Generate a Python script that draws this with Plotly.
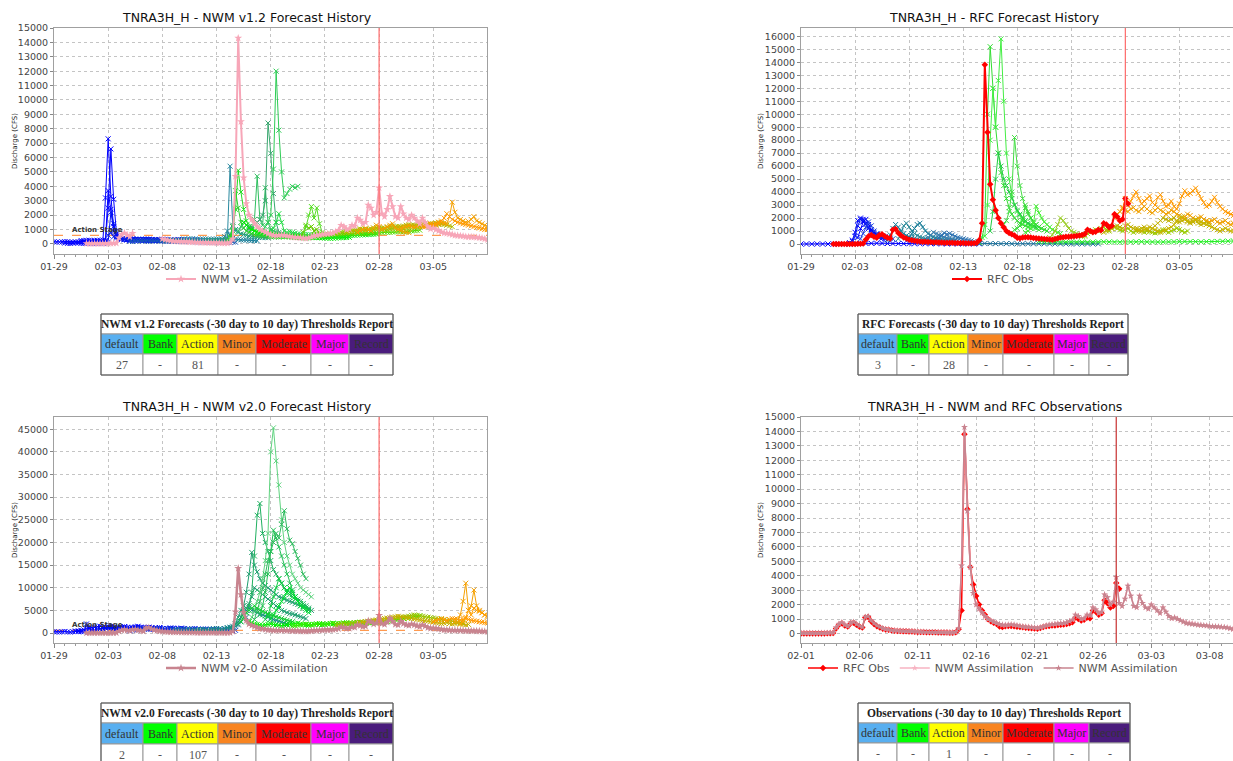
import plotly.graph_objects as go
import pandas as pd

W, H = 1233, 761

# ---------------- observations (6-hourly from 2019-02-01 00:00) ----------------
OBS_START = "2019-02-01 00:00"
OBS_STEP_H = 6

ASSIM_V20 = [30, 20, 20, 30, 20, 20, 30, 30, 30, 40, 50, 60,
             400, 650, 760, 600, 500, 750, 800, 650, 520, 430, 1150, 1200,
             900, 700, 550, 450, 350, 300, 260, 230, 200, 190, 180, 170,
             160, 150, 140, 130, 120, 110, 100, 100, 90, 90, 80, 80,
             70, 70, 60, 60, 60, 100, 350, 4700, 14300, 8500, 4600, 2800,
             2000, 1700, 1450, 1200, 1000, 900, 800, 720, 650, 600, 580, 600,
             620, 600, 560, 520, 480, 460, 450, 430, 400, 380, 420, 480,
             550, 600, 620, 650, 680, 700, 720, 750, 850, 950, 1300, 1200,
             1000, 1050, 1300, 1250, 1800, 1650, 1400, 1500, 2700, 2500, 2000, 2200,
             3900, 2100, 1900, 2400, 3300, 2600, 1900, 1800, 2600, 2100, 1800, 1700,
             2000, 1800, 1600, 1400, 1800, 1500, 1200, 1050, 1100, 1000, 900, 800,
             700, 680, 650, 620, 600, 580, 560, 540, 500, 490, 480, 470,
             450, 440, 400, 350, 300]

# v1.2 assimilation has a data gap between 02-05 and 02-08
ASSIM_V12 = [30, 20, 20, 30, 20, 20, 30, 30, 30, 40, 50, 60,
             420, 660, 760, 610, 500, 740, None, None, None, None, None, None,
             None, None, None, None, 350, 300, 260, 230, 200, 190, 180, 170,
             160, 150, 140, 130, 120, 110, 100, 100, 90, 90, 80, 80,
             70, 70, 60, 60, 60, 100, 350, 4700, 14300, 8500, 4600, 2800,
             2000, 1700, 1450, 1200, 1000, 900, 800, 720, 650, 600, 580, 600,
             620, 600, 560, 520, 480, 460, 450, 430, 400, 380, 420, 480,
             550, 600, 620, 650, 680, 700, 720, 750, 850, 950, 1300, 1200,
             1000, 1050, 1300, 1250, 1800, 1650, 1400, 1500, 2700, 2500, 2000, 2200,
             3900, 2100, 1900, 2400, 3300, 2600, 1900, 1800, 2600, 2100, 1800, 1700,
             2000, 1800, 1600, 1400, 1800, 1500, 1200, 1050, 1100, 1000, 900, 820,
             760, 740, 700, 650, 600, 580, 560, 540, 500, 490, 480, 470,
             450, 440, 400, 350, 300]

RFC_OBS = [0, 0, 0, 0, 0, 0, 0, 0, 0, 10, 20, 40,
           350, 600, 700, 550, 480, 700, 750, 600, 480, 420, 1100, 1150,
           850, 650, 500, 420, 330, 280, 250, 220, 190, 180, 170, 160,
           150, 140, 130, 120, 110, 100, 100, 90, 90, 80, 80, 70,
           70, 60, 60, 50, 50, 90, 300, 1600, 13800, 8600, 4600, 3400,
           2600, 2000, 1600, 1300, 1000, 850, 750, 650, 480, 450, 500, 520,
           520, 500, 470, 450, 430, 400, 380, 360, 350, 330, 380, 450,
           500, 520, 550, 560, 580, 600, 620, 650, 700, 780, 1100, 1000,
           900, 950, 1100, 1050, 1600, 1500, 1300, 1400, 2300, 2100, 1800, 1900,
           3500, 3100]

# ---------------- NWM v1.2 forecasts ----------------
V12_FC_START = ["2019-01-29 00:00", "2019-01-30 00:00", "2019-01-31 12:00", "2019-02-01 18:00",
                "2019-02-03 00:00", "2019-02-05 00:00", "2019-02-08 00:00", "2019-02-10 00:00",
                "2019-02-12 00:00", "2019-02-14 00:00", "2019-02-14 06:00", "2019-02-15 00:00",
                "2019-02-16 00:00", "2019-02-17 00:00", "2019-02-17 12:00", "2019-02-15 12:00",
                "2019-02-18 00:00", "2019-02-20 18:00", "2019-02-21 00:00", "2019-02-22 00:00",
                "2019-02-24 00:00", "2019-02-25 00:00", "2019-02-26 00:00", "2019-03-02 00:00",
                "2019-03-04 00:00"]
V12_FC_VALUES = [
    [150, 130, 120, 140, 160, 150, 130, 120, 140, 150, 160, 140, 130, 120, 150, 160, 170, 150, 140, 160,
     2500, 6600, 3100, 900, 450, 350, 300, 280, 260, 250, 270, 290, 260, 240, 250, 230, 220, 240, 230, 220],
    [60, 40, 30, 50, 70, 60, 40, 30, 50, 60, 40, 30, 50, 70, 60, 3200, 7300, 3300, 1200, 500,
     380, 320, 300, 290, 280, 300, 310, 290, 270, 260, 250, 270, 260, 250, 240, 230, 250, 240, 230, 220],
    [240, 230, 250, 260, 240, 230, 250, 260, 270, 250, 3700, 2400, 900, 600, 400, 350, 320, 300, 310, 330,
     300, 280, 270, 290, 300, 280, 260, 250, 270, 260, 240, 230, 250, 240, 230, 220],
    [100, 110, 90, 80, 100, 120, 2200, 1400, 700, 450, 380, 340, 320, 330, 350, 320, 300, 310, 330, 320,
     300, 290, 280, 300, 290, 270, 260, 280, 270, 260, 250, 240, 260, 250, 240, 230],
    [600, 800, 500, 400, 350, 320, 300, 320, 340, 360, 330, 310, 300, 320, 340, 330, 310, 300, 290, 310,
     330, 320, 300, 290, 280, 300, 310, 290, 280, 270, 260, 280, 270, 260, 250, 240],
    [180, 170, 190, 200, 220, 210, 190, 180, 200, 220, 210, 200, 190, 180, 170, 190, 200, 180, 170, 160,
     150, 170, 180, 160, 150, 140, 160, 150, 140, 130, 150, 140, 130, 120, 140, 130, 120, 110, 130, 120],
    [250, 240, 260, 270, 260, 250, 240, 260, 250, 240, 230, 250, 240, 230, 220, 240, 230, 220, 210, 230,
     220, 250, 300, 500, 900, 600, 400, 350, 300, 280, 270, 260, 250, 240, 230, 220],
    [340, 330, 350, 360, 340, 330, 320, 340, 350, 330, 320, 340, 350, 330, 340, 360, 400, 5400, 1200, 900],
    [230, 220, 240, 250, 230, 220, 240, 260, 300, 500, 1300, 1000, 800, 700, 650, 600, 550, 520, 500, 480,
     460, 450, 440, 430],
    [300, 500, 1200, 3700, 2500, 1500, 1100, 900, 800, 700, 650, 600, 580, 560, 540, 520, 500, 490, 480, 470],
    [400, 900, 2400, 5100, 3600, 2400, 1600, 1200, 1000, 900, 800, 750, 700, 680, 650, 620, 600, 580, 560, 550,
     540, 530, 520, 510, 500, 490, 480, 470],
    [900, 1200, 1500, 1300, 1200, 1100, 1700, 4700, 1700, 1300, 3900, 1500, 1000, 900, 800, 700, 650, 600, 580,
     560, 550, 540, 530],
    [1000, 1200, 1400, 1500, 1700, 2000, 3000, 8400, 6300, 3500, 1500, 800, 700, 650, 600, 580, 560, 550, 540, 530],
    [800, 900, 1200, 1500, 2000, 5200, 12000, 7900, 5000, 3200, 3500, 3800, 4000, 3900, 4000],
    [700, 800, 900, 1100, 1500, 2100, 1500, 900, 800, 850, 800, 750, 700, 680, 660, 650, 640, 630, 620, 610],
    [1500, 1300, 1100, 1000, 900, 850, 800, 750, 700, 680, 660, 640, 620, 600, 580, 560, 550, 540, 530, 520,
     510, 500, 490, 480, 470, 460, 450, 440, 430, 420, 410, 400, 390, 400, 410, 420, 430, 440, 450, 460],
    [600, 580, 560, 540, 520, 500, 490, 480, 470, 460, 450, 440, 430, 420, 430, 440, 450, 460, 470, 480,
     490, 500, 510, 520, 530, 540, 550, 560, 570, 580, 590, 600, 610, 620, 630, 640, 650, 660, 670, 680],
    [500, 800, 1300, 1100, 1200, 900, 1000, 700, 600],
    [500, 1200, 2000, 2600, 1800, 2500, 1400, 800],
    [600, 620, 640, 650, 670, 680, 700, 690, 680, 700, 720, 710, 700, 690, 700, 720, 740, 730, 720, 740,
     760, 780, 770, 760, 780, 800, 820, 810, 800, 820, 840, 860, 850, 840, 860, 880, 900, 920, 940, 960],
    [700, 750, 800, 820, 850, 900, 880, 860, 900, 950, 980, 1000, 970, 950, 1000, 1050, 1080, 1100, 1050, 1000,
     1050, 1100, 1150, 1200, 1150, 1100, 1150, 1200, 1250, 1300, 1250, 1200, 1250, 1300, 1350, 1400, 1350, 1300,
     1350, 1400],
    [800, 850, 900, 950, 1000, 1050, 1000, 950, 1000, 1050, 1100, 1150, 1100, 1050, 1100, 1150, 1200, 1250, 1200,
     1150, 1200, 1250, 1300, 1350, 1300, 1250, 1300, 1350, 1400, 1450, 1400, 1350, 1400, 1450, 1500, 1400, 1350,
     1300, 1250, 1200],
    [800, 900, 1000, 1100, 1000, 900, 1100, 1300, 1200, 1000, 1100, 1200, 1300, 1400, 1100, 1000, 900, 850, 800, 780],
    [1100, 1150, 1200, 1250, 1200, 1150, 1200, 1300, 1250, 1200, 1300, 1400, 1350, 1300, 1400, 1500, 1450, 1400,
     1900, 2900, 2200, 1800, 1700, 1600, 1500, 1550, 1700, 1900, 1600, 1500, 1400, 1300, 1200, 1100],
    [1200, 1250, 1300, 1350, 1300, 1400, 1500, 1600, 1800, 2100, 1900, 1700, 1600, 1500, 1450, 1400, 1350, 1300,
     1250, 1200, 1150, 1100, 1050, 1000, 1000],
]
V12_FC_COLORS = ["#0000ff", "#0000ff", "#0000ff", "#0010f5", "#0a20e8", "#1a5ab8", "#1a7f9a", "#2a8aa0",
                 "#209a80", "#33cc33", "#22dd22", "#2fbf5f", "#3aa870", "#2ecc55", "#22dd44", "#00ee00",
                 "#11ee11", "#66cc00", "#55dd22", "#55dd00", "#99c400", "#b5bb00", "#f0a000", "#f5a000",
                 "#ff9a00"]

# ---------------- RFC forecasts ----------------
RFC_FC_START = ["2019-01-29 00:00", "2019-02-02 12:00", "2019-02-02 18:00", "2019-02-03 06:00",
                "2019-02-03 12:00", "2019-02-10 00:00", "2019-02-06 00:00", "2019-02-07 00:00",
                "2019-02-08 00:00", "2019-02-09 12:00", "2019-02-10 12:00", "2019-02-14 12:00",
                "2019-02-15 00:00", "2019-02-15 12:00", "2019-02-16 18:00", "2019-02-17 18:00",
                "2019-02-18 18:00", "2019-02-21 00:00", "2019-02-20 00:00", "2019-02-24 00:00",
                "2019-02-26 00:00", "2019-02-27 00:00", "2019-02-27 18:00", "2019-03-01 00:00"]
RFC_FC_STEP_H = [12, 6, 6, 6, 6, 12, 6, 6, 6, 6, 6, 6, 6, 6, 6, 6, 6, 6, 12, 6, 6, 6, 6, 6]
RFC_FC_VALUES = [
    [0, 0, 0, 0, 0, 0, 0, 0, 0, 0, 20, 30, 40, 50, 60, 50, 40, 40, 30, 30, 30, 20, 20, 20, 20, 20, 10, 10, 10,
     10, 10, 10, 10, 10],
    [100, 300, 900, 1800, 2000, 1900, 1500, 1200, 900, 700, 600, 500, 450, 400],
    [200, 600, 1400, 1900, 1800, 1600, 1300, 1000, 800, 650, 550, 480, 420],
    [500, 1200, 1700, 1900, 1500, 1100, 900, 750, 650, 600, 550],
    [400, 800, 1300, 1700, 1400, 1000, 800, 700, 600, 550, 500, 450, 400],
    [100, 90, 80, 70, 60, 60, 50, 50, 40, 40, 40, 30, 30, 30, 30, 20, 20, 20, 20, 20, 20, 20, 10, 10, 10, 10,
     10, 10, 10, 10, 10, 10],
    [300, 700, 1200, 1500, 1300, 1000, 800, 650, 550, 450, 400, 350, 300, 280, 250, 230, 220, 200],
    [400, 900, 1400, 1600, 1300, 1000, 800, 650, 550, 480, 420, 380, 350, 320, 300, 280],
    [500, 800, 1200, 1500, 1600, 1300, 1000, 800, 650, 550, 480, 420, 380, 350, 320, 300, 280, 260],
    [300, 500, 700, 900, 800, 700, 600, 500, 450, 400, 350, 300, 280],
    [300, 500, 700, 850, 750, 800, 700, 600, 500, 450, 400, 350, 300, 250, 200],
    [100, 500, 1500, 10000, 15200, 12000, 9000, 7000, 5500, 4500, 3500, 2800, 2300, 2000, 1800, 1600, 1500, 1400,
     1300, 1200],
    [600, 3000, 8000, 12000, 9000, 12600, 15800, 11000, 7000, 5000, 3800, 3000, 2500, 2200, 1900, 1700, 1500, 1400,
     1300, 1200, 1100],
    [1000, 2500, 5000, 7000, 6000, 5000, 4500, 4000, 3500, 3000, 2600, 2300, 2000, 1800, 1600, 1500, 1400, 1300],
    [1500, 1800, 2500, 4000, 8200, 6000, 4500, 3500, 2800, 2300, 2000, 1700, 1500, 1300, 1200],
    [1100, 1200, 1400, 1800, 3000, 2500, 2000, 1700, 1500, 1300, 1200, 1100, 1000],
    [900, 1000, 1200, 1600, 2900, 2400, 2000, 1700, 1500, 1300, 1100, 1000, 900, 800],
    [500, 700, 1000, 1500, 2000, 1800, 1500, 1200, 1000, 900, 800, 700, 650, 600],
    [200, 180, 160, 150, 140, 150, 160, 150, 140, 130, 150, 160, 170, 160, 150, 140, 150, 160, 170, 180, 170, 160,
     150, 160, 170, 180, 190, 200, 190, 180, 170, 180, 190, 200, 210, 220, 230],
    [600, 700, 800, 900, 1000, 1100, 1000, 1200, 1300, 1100, 1000, 1200, 1300, 1200, 1100, 1000, 1100, 1200, 1000,
     900, 1000, 1100, 1000, 900, 1000, 950, 900, 850, 900, 1000, 1100, 1000, 900, 1000, 1100, 1200, 1100, 1000,
     900, 1000],
    [900, 1000, 1100, 1200, 1300, 1400, 1300, 1200, 1400, 1500, 1300, 1200, 1100, 1000, 1200, 1300, 1100, 1000,
     1200, 1400, 1600, 1800, 2000, 1900, 1800, 1900, 2000, 1800, 1700, 1800, 1900, 1700, 1600, 1700, 1800, 1600,
     1500, 1600, 1700, 1600],
    [2000, 2300, 2500, 2700, 2600, 2500, 2700, 2800, 2600, 2500, 2700, 2900, 2700, 2500, 2400, 2600, 2800, 2600,
     2500, 2300, 2400, 2600, 2500, 2300, 2200, 2000, 2100, 2300, 2200, 2000, 1900, 2000, 2100, 1900, 1800, 1700,
     1800, 1900, 1700, 1600, 1700, 1800, 1600, 1500, 1600],
    [2800, 3500, 3000, 3300, 3700, 4000, 3500, 3100, 3300, 3500, 3700, 3200, 3000, 3600, 3800, 3300, 2900, 3000,
     3300, 2900, 2700, 3100, 3700, 4100, 3800, 3900, 4100, 4300, 3900, 3500, 3200, 2900, 3000, 3300, 3600, 3200,
     2900, 2700, 2500, 2400, 2300, 2200],
    [1200, 1100, 1000, 1100, 1200, 1300, 1200, 1100, 1000, 900, 1000, 1100, 1200, 1300, 1500, 1700, 2000, 2100,
     1900, 1800, 1700, 1800, 1900, 1800, 1700, 1600, 1500, 1400, 1300, 1200, 1100, 1000, 1100, 1200, 1100, 1000,
     1000],
]
RFC_FC_COLORS = ["#0000ff", "#0000ff", "#1020f0", "#0000ff", "#2040e0", "#1a6f9a", "#1a7f9a", "#2a8a9a",
                 "#1a7f9a", "#3a7fb0", "#2a70b0", "#33dd33", "#44ee44", "#22cc44", "#44dd44", "#33dd33",
                 "#44ee33", "#99cc22", "#22ee22", "#99cc00", "#c0b000", "#f0a000", "#ff9900", "#c8b400"]

# ---------------- NWM v2.0 forecasts ----------------
V20_FC_START = ["2019-01-29 00:00", "2019-01-31 00:00", "2019-02-02 00:00", "2019-02-05 00:00",
                "2019-02-09 00:00", "2019-02-11 00:00", "2019-02-14 12:00", "2019-02-15 00:00",
                "2019-02-15 12:00", "2019-02-16 00:00", "2019-02-16 12:00", "2019-02-17 00:00",
                "2019-02-17 12:00", "2019-02-18 00:00", "2019-02-15 06:00", "2019-02-16 00:00",
                "2019-02-20 00:00", "2019-02-24 00:00", "2019-02-26 00:00", "2019-03-05 00:00",
                "2019-03-07 00:00", "2019-03-07 12:00"]
V20_FC_VALUES = [
    [300, 250, 200, 300, 350, 250, 200, 300, 400, 350, 300, 250, 2000, 900, 700, 600, 800, 900, 1000, 1100,
     1200, 1300, 1100, 1000, 1200, 1300, 1400, 1200, 1100, 1300, 1400, 1500, 1300, 1200, 1100, 1300, 1200, 1100,
     1000, 1200],
    [400, 500, 600, 700, 900, 1100, 1200, 1300, 1400, 1500, 1300, 1200, 1400, 1500, 1300, 1200, 1100, 1300, 1400,
     1200, 1100, 1000, 1200, 1300, 1100, 1000, 1200, 1100, 1000, 900, 1100, 1200, 1000, 900, 1000, 1100, 900, 800,
     1000, 1100, 900, 800, 700, 900],
    [800, 900, 1000, 1100, 1200, 1100, 1000, 900, 1100, 1200, 1300, 1100, 1000, 900, 1100, 1200, 1000, 900, 1000,
     1100, 900, 800, 1000, 1100, 1000, 900, 800, 1000, 1100, 900, 800, 900, 1000, 800, 700, 900, 1000, 800, 700,
     900, 800, 700, 800, 900],
    [500, 600, 700, 800, 900, 1000, 900, 800, 900, 1000, 1100, 1000, 900, 800, 1000, 1100, 900, 800, 700, 900,
     1000, 800, 700, 800, 900, 700, 600, 800, 900, 700, 600, 700, 800, 600, 500, 700, 800, 600, 500, 600],
    [600, 700, 800, 700, 600, 800, 900, 700, 600, 700, 800, 600, 500, 700, 800, 900, 1000, 900, 800, 1000, 1200,
     1100, 1300, 1500, 1800, 2500, 3000, 3500],
    [500, 600, 700, 800, 700, 600, 800, 900, 1000, 900, 800, 1000, 1100, 1300, 1500, 2000, 2500, 3500, 4500, 5000,
     5500, 5000, 4800, 4500, 4200, 4000, 3800, 3500, 3300, 3000, 2800, 2600, 2400, 2200, 2000, 1900],
    [1000, 2000, 3500, 5000, 6000, 5500, 6500, 8000, 10000, 9500, 9000, 8500, 8000, 7500, 7000, 6500, 6000, 5500,
     5000, 4800, 4500, 4300, 4200, 4000, 3800, 3600, 3400, 3200],
    [2000, 3500, 6000, 9000, 13000, 17800, 15000, 13500, 12000, 11000, 10500, 10000, 9500, 9000, 8500, 8000, 7800,
     7500, 7200, 7000, 6800, 6500, 6300, 6000, 5800, 5500, 5200, 5000],
    [3000, 4500, 6000, 9000, 17000, 26000, 28600, 22000, 20000, 18000, 16000, 14000, 13000, 12000, 11000, 10000,
     9500, 9000, 8500, 8000, 7500, 7000, 6500, 6000, 5500],
    [2500, 3500, 5000, 7000, 9000, 12000, 16000, 22000, 40000, 45300, 38000, 32700, 25000, 20000, 17000, 15000,
     13000, 12000, 11000, 10000, 9500, 9000, 8500, 8000],
    [3000, 5000, 7000, 10000, 13000, 16000, 18000, 20000, 22000, 21000, 24000, 27000, 23000, 20500, 19700, 18000,
     16500, 15000, 13000, 12000],
    [4000, 6000, 9000, 13000, 18000, 22700, 21000, 19000, 17000, 15000, 13000, 11000, 9500, 8000, 7000, 6500],
    [3000, 4000, 6000, 8000, 10000, 12000, 11000, 10000, 9000, 8500, 8000, 7500, 7000, 6500, 6000, 5500, 5000],
    [3000, 4000, 5000, 6000, 7000, 8000, 9000, 10000, 9000, 8000, 7000, 6000, 5500, 5000, 4500],
    [2500, 3500, 4500, 5000, 5500, 6000, 5500, 5000, 4800, 4500, 4200, 4000, 3800, 3600, 3400, 3200, 3000, 2800,
     2600, 2500],
    [2500, 2200, 2000, 1900, 1800, 1700, 1800, 1900, 2000, 1900, 1800, 1700, 1600, 1700, 1800, 1900, 2000, 2100,
     2200, 2000, 1900, 1800, 1700, 1800, 1900, 2000, 1900, 1800, 1900, 2000, 2100, 2000, 1900, 2000, 2100, 2200,
     2100, 2000, 2100, 2200, 2300, 2200, 2100, 2200, 2300, 2400, 2300, 2200],
    [1500, 1600, 1700, 1800, 1900, 2000, 1900, 1800, 1900, 2000, 2100, 2000, 1900, 2000, 2100, 2200, 2100, 2000,
     2100, 2200, 2300, 2200, 2100, 2200, 2300, 2400, 2300, 2200, 2300, 2400, 2500, 2400, 2300, 2400, 2500, 2600,
     2800, 2700, 2900, 3100, 3000, 3200, 3400, 3300, 3500, 3700, 3600, 3800],
    [1800, 1900, 2000, 2100, 2000, 2100, 2200, 2300, 2200, 2300, 2400, 2500, 2400, 2500, 2600, 2700, 2600, 2700,
     2800, 2900, 3000, 3100, 3200, 3300, 3400, 3500, 3600, 3700, 3900, 4000, 3900, 3800, 3700, 3600, 3500, 3400,
     3300, 3200, 3100, 3000, 2900, 2800, 2700, 2600, 2500, 2400, 2300, 2200],
    [2200, 2300, 2400, 2500, 2600, 2700, 2800, 2900, 3000, 3100, 3200, 3300, 3400, 3500, 3600, 3700, 3600, 3500,
     3400, 3300, 3200, 3100, 3000, 2900, 2800, 2700, 2600, 2500, 2400, 2300, 2200, 2100, 2200, 2300, 2100, 2000,
     2100, 2200, 2000, 1900, 1800, 1900],
    [2500, 2800, 3000, 3200, 3000, 2800, 3000, 3200, 3100, 3000, 2900, 3000, 3200, 3000, 2800, 2700, 2600, 2500,
     2400, 2300, 2200],
    [2500, 3000, 4000, 7000, 11000, 5000, 6000, 9500, 6000, 5000, 4500, 4000, 3500],
    [2000, 2500, 3500, 5000, 4000, 5500, 5000, 4800, 4500, 4000, 3800, 3500, 3200],
]
V20_FC_COLORS = ["#0000ff", "#0000ff", "#0010f5", "#1030e0", "#1a7f9a", "#1a8a8a", "#1fa070", "#1f9f6f",
                 "#20b060", "#5fd37f", "#2dbb5d", "#22c055", "#11cc44", "#00dd33", "#11cc33", "#00ee00",
                 "#33ee00", "#99c400", "#c8b000", "#ff9900", "#f5a000", "#ffa000"]

# ---------------- threshold tables ----------------
THRESH_CATS = ["default", "Bank", "Action", "Minor", "Moderate", "Major", "Record"]
THRESH_COLORS = ["#58aff0", "#00ff00", "#ffff00", "#f88420", "#ff0000", "#ff00ff", "#4a1c7c"]
V12_COUNTS = ["27", "-", "81", "-", "-", "-", "-"]
RFC_COUNTS = ["3", "-", "28", "-", "-", "-", "-"]
V20_COUNTS = ["2", "-", "107", "-", "-", "-", "-"]
OBS_COUNTS = ["-", "-", "1", "-", "-", "-", "-"]

ACTION_STAGE = 600
NOW_LINE = "2019-02-28 00:00"

SANS = "DejaVu Sans"
SERIF = "Liberation Serif"

fig = go.Figure()


def times(start, n, step_h):
    return pd.date_range(pd.Timestamp(start), periods=n, freq=pd.Timedelta(hours=step_h))


def add_forecasts(starts, values, colors, steps, xa, ya):
    for i, (s, v, c) in enumerate(zip(starts, values, colors)):
        st = steps[i] if steps else 6
        fig.add_trace(go.Scatter(
            x=times(s, len(v), st), y=v, mode="lines+markers", xaxis=xa, yaxis=ya,
            line=dict(color=c, width=1),
            marker=dict(symbol="x-thin", size=5, line=dict(color=c, width=1)),
            showlegend=False, hoverinfo="skip"))


def add_obs(vals, name, color, symbol, lw, ms, xa, ya, legend, show=True):
    fig.add_trace(go.Scatter(
        x=times(OBS_START, len(vals), OBS_STEP_H), y=vals, mode="lines+markers", name=name,
        xaxis=xa, yaxis=ya, legend=legend, showlegend=show,
        line=dict(color=color, width=lw),
        marker=dict(symbol=symbol, size=ms, color=color)))


# Panel 1
add_forecasts(V12_FC_START, V12_FC_VALUES, V12_FC_COLORS, None, "x", "y")
add_obs(ASSIM_V12, "NWM v1-2 Assimilation", "#f7a6b8", "star", 2, 6, "x", "y", "legend")
# Panel 2
add_forecasts(RFC_FC_START, RFC_FC_VALUES, RFC_FC_COLORS, RFC_FC_STEP_H, "x2", "y2")
add_obs(RFC_OBS, "RFC Obs", "#ff0000", "diamond", 2, 5, "x2", "y2", "legend2")
# Panel 3
add_forecasts(V20_FC_START, V20_FC_VALUES, V20_FC_COLORS, None, "x3", "y3")
add_obs(ASSIM_V20, "NWM v2-0 Assimilation", "#c8848f", "star", 2.5, 6, "x3", "y3", "legend3")
# Panel 4
add_obs(RFC_OBS, "RFC Obs", "#ff0000", "diamond", 1.5, 5, "x4", "y4", "legend4")
add_obs(ASSIM_V12, "NWM Assimilation", "#f7b3c2", "star", 1.5, 5, "x4", "y4", "legend4")
add_obs(ASSIM_V20, "NWM Assimilation", "#c8848f", "star", 1.5, 5, "x4", "y4", "legend4")

DAY_MS = 86400000


def xax(domain, rng, tick0, anchor):
    return dict(domain=domain, type="date", range=rng, tickformat="%m-%d", dtick=5 * DAY_MS, tick0=tick0,
                anchor=anchor, automargin=False,
                ticks="outside", ticklen=4, tickcolor="#888", showgrid=True, gridcolor="#c4c4c4",
                griddash="dot", gridwidth=1, showline=True, linecolor="#a0a0a0", mirror=True, zeroline=False,
                tickfont=dict(family=SANS, size=9.5, color="#444"),
                minor=dict(dtick=DAY_MS, ticks="outside", ticklen=2, tickcolor="#999", showgrid=False))


def yax(domain, rng, dtick, anchor):
    return dict(domain=domain, range=rng, dtick=dtick, tick0=0, anchor=anchor, automargin=False,
                ticks="outside", ticklen=3, tickformat="d",
                tickcolor="#888", showgrid=True, gridcolor="#c4c4c4", griddash="dot", gridwidth=1,
                showline=True, linecolor="#a0a0a0", mirror=True, zeroline=False,
                tickfont=dict(family=SANS, size=9.5, color="#444"))


XL = [54 / W, 487 / W]
XR = [801 / W, 1.0]
YT = [1 - 254 / H, 1 - 28 / H]
YB = [1 - 643 / H, 1 - 417 / H]

fig.update_layout(
    template="none",
    width=W, height=H, margin=dict(l=0, r=0, t=0, b=0, autoexpand=False),
    paper_bgcolor="white", plot_bgcolor="white",
    xaxis=xax(XL, ["2019-01-29 00:00", "2019-03-09 23:00"], "2019-01-29", "y"),
    yaxis=yax(YT, [-700, 15000], 1000, "x"),
    xaxis2=xax(XR, ["2019-01-29 00:00", "2019-03-09 23:00"], "2019-01-29", "y2"),
    yaxis2=yax(YT, [-770, 16640], 1000, "x2"),
    xaxis3=xax(XL, ["2019-01-29 00:00", "2019-03-09 23:00"], "2019-01-29", "y3"),
    yaxis3=yax(YB, [-2200, 47700], 5000, "x3"),
    xaxis4=xax(XR, ["2019-02-01 00:00", "2019-03-10 00:00"], "2019-02-01", "y4"),
    yaxis4=yax(YB, [-660, 15000], 1000, "x4"),
)

LEG = dict(orientation="h", xanchor="center", yanchor="middle", bgcolor="rgba(0,0,0,0)", itemwidth=30,
           font=dict(family=SANS, size=11, color="#555"), tracegroupgap=0)
fig.update_layout(
    legend=dict(LEG, x=247 / W, y=1 - 279 / H),
    legend2=dict(LEG, x=993 / W, y=1 - 279 / H),
    legend3=dict(LEG, x=247 / W, y=1 - 668 / H),
    legend4=dict(LEG, x=993 / W, y=1 - 668 / H),
)

shapes = []
annos = []

for xa, ya, col in [("x", "y", "#ff6a6a"), ("x2", "y2", "#ff6a6a"), ("x3", "y3", "#ff6a6a"), ("x4", "y4", "#c83030")]:
    shapes.append(dict(type="line", xref=xa, yref=ya + " domain", x0=NOW_LINE, x1=NOW_LINE, y0=0, y1=1,
                       line=dict(color=col, width=1.2)))
for xa, ya in [("x", "y"), ("x3", "y3")]:
    shapes.append(dict(type="line", xref=xa + " domain", yref=ya, x0=0, x1=1, y0=ACTION_STAGE, y1=ACTION_STAGE,
                       line=dict(color="#ff9a50", width=1.3, dash="dash"), layer="below"))
    annos.append(dict(xref=xa, yref=ya, x="2019-01-30 12:00", y=ACTION_STAGE, text="<b>Action Stage</b>",
                      showarrow=False, xanchor="left", yanchor="bottom", yshift=-1,
                      font=dict(family=SANS, size=7, color="#333")))

for cx, cy, txt in [(247, 17, "TNRA3H_H - NWM v1.2 Forecast History"),
                    (994, 17, "TNRA3H_H - RFC Forecast History"),
                    (247, 406, "TNRA3H_H - NWM v2.0 Forecast History"),
                    (994, 406, "TNRA3H_H - NWM and RFC Observations")]:
    annos.append(dict(xref="paper", yref="paper", x=cx / W, y=1 - cy / H, text=txt, showarrow=False,
                      xanchor="center", yanchor="middle", font=dict(family=SANS, size=12.5, color="#111")))
for cx, cy in [(15, 141), (761, 141), (15, 530), (761, 530)]:
    annos.append(dict(xref="paper", yref="paper", x=cx / W, y=1 - cy / H, text="Discharge (CFS)",
                      showarrow=False, textangle=-90, xanchor="center", yanchor="middle",
                      font=dict(family=SANS, size=7, color="#222")))


def table(cols, rows, title, counts):
    x0, x1 = cols[0], cols[-1]
    shapes.append(dict(type="rect", xref="paper", yref="paper", x0=x0 / W, y0=1 - rows[1] / H, x1=x1 / W,
                       y1=1 - rows[0] / H, fillcolor="white", line=dict(color="#999", width=1)))
    annos.append(dict(xref="paper", yref="paper", x=(x0 + x1) / 2 / W, y=1 - (rows[0] + rows[1]) / 2 / H,
                      text="<b>" + title + "</b>", showarrow=False, xanchor="center", yanchor="middle",
                      font=dict(family=SERIF, size=11.5, color="#222")))
    for i in range(len(THRESH_CATS)):
        for r, (fill, txt, tc) in enumerate([(THRESH_COLORS[i], THRESH_CATS[i], "#333"),
                                              ("white", counts[i], "#555")]):
            ya, yb = rows[1 + r], rows[2 + r]
            shapes.append(dict(type="rect", xref="paper", yref="paper", x0=cols[i] / W, x1=cols[i + 1] / W,
                               y0=1 - yb / H, y1=1 - ya / H, fillcolor=fill, line=dict(color="#999", width=1)))
            annos.append(dict(xref="paper", yref="paper", x=(cols[i] + cols[i + 1]) / 2 / W,
                              y=1 - (ya + yb) / 2 / H, text=txt, showarrow=False, xanchor="center",
                              yanchor="middle", font=dict(family=SERIF, size=12, color=tc)))
    shapes.append(dict(type="rect", xref="paper", yref="paper", x0=x0 / W, x1=x1 / W, y0=1 - rows[-1] / H,
                       y1=1 - rows[0] / H, line=dict(color="#555", width=1)))


table([101, 143, 177, 218, 256, 311, 349, 393], [314, 334, 354, 375],
      "NWM v1.2 Forecasts (-30 day to 10 day) Thresholds Report", V12_COUNTS)
table([858, 897, 929, 968, 1003, 1054, 1089, 1128], [314, 334, 354, 375],
      "RFC Forecasts (-30 day to 10 day) Thresholds Report", RFC_COUNTS)
table([101, 143, 177, 218, 256, 311, 349, 393], [703, 723, 744, 765],
      "NWM v2.0 Forecasts (-30 day to 10 day) Thresholds Report", V20_COUNTS)
table([858, 897, 929, 968, 1003, 1054, 1089, 1130], [703, 723, 743, 765],
      "Observations (-30 day to 10 day) Thresholds Report", OBS_COUNTS)

fig.update_layout(shapes=shapes, annotations=annos)
fig.write_html("out.html")
